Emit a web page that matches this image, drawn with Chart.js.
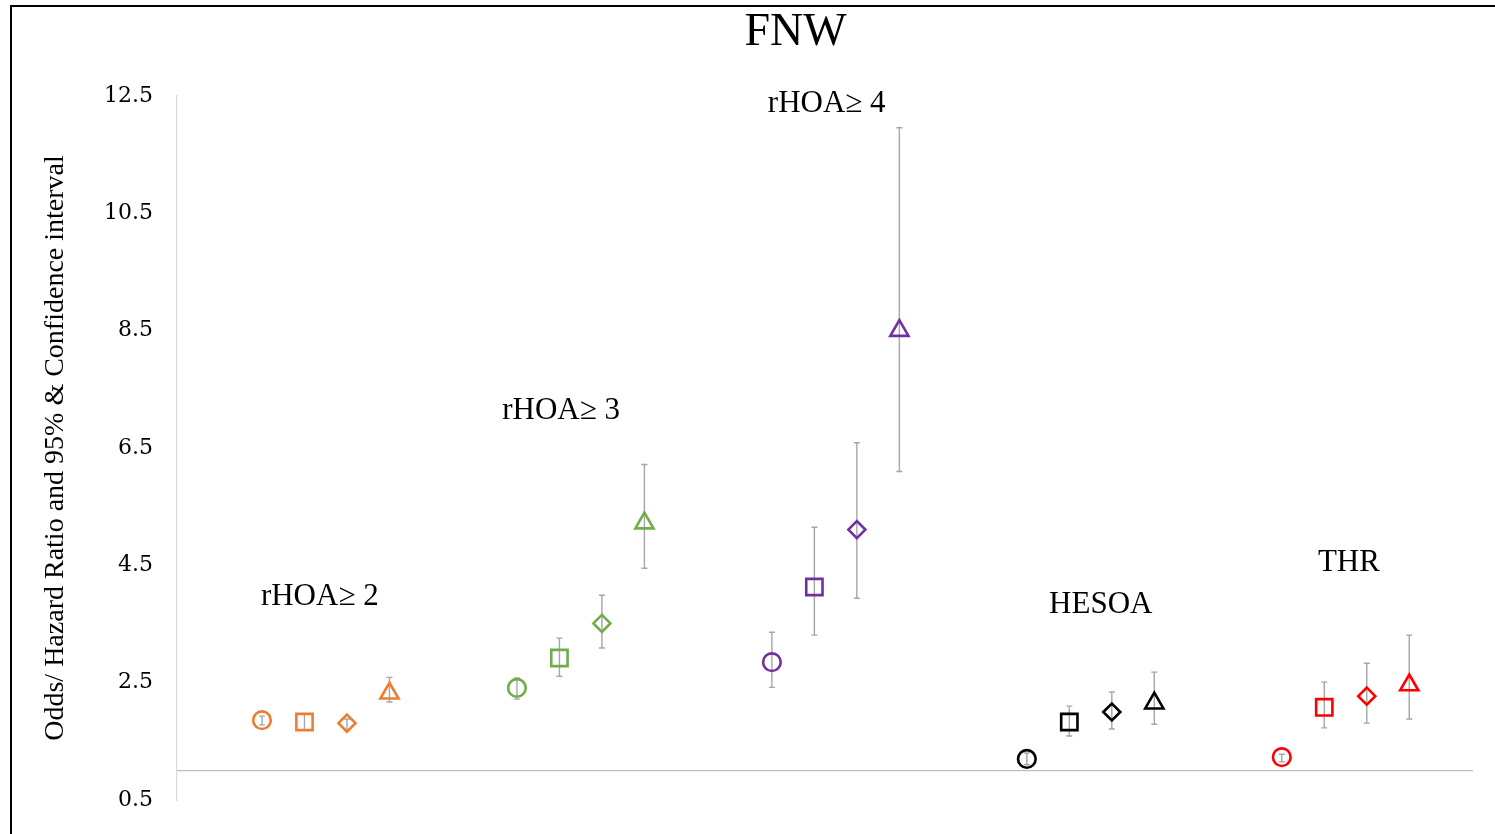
<!DOCTYPE html>
<html>
<head>
<meta charset="utf-8">
<script src="https://cdn.jsdelivr.net/npm/chart.js@4"></script>
<style>
  html, body { margin: 0; padding: 0; background: #fff; overflow: hidden; }
  #wrap { position: relative; width: 1495px; height: 834px; }
  #chart { position: absolute; left: 0; top: 0; }
  #frame { position: absolute; left: 10px; top: 5px; width: 1600px; height: 900px;
           border-top: 2px solid #000; border-left: 2px solid #000; pointer-events: none; }
</style>
</head>
<body>
<div id="wrap">
  <canvas id="chart" width="1495" height="834"></canvas>
  <div id="frame"></div>
</div>
<script>
// Groups and the four markers in each group (circle, square, diamond, triangle)
const groups = ['rHOA\u2265 2', 'rHOA\u2265 3', 'rHOA\u2265 4', 'HESOA', 'THR'];
const colors = ['#ED7D31', '#70AD47', '#7030A0', '#000000', '#FF0000'];
const shapes = ['circle', 'rect', 'rectRot', 'triangle'];

// Ratio estimates with lower / upper confidence limits
const rhoa2 = [1.86, 1.83, 1.81, 2.32];
const rhoa2Low = [1.78, 1.69, 1.69, 2.17];
const rhoa2High = [1.93, 1.96, 1.88, 2.59];

const rhoa3 = [2.41, 2.92, 3.51, 5.22];
const rhoa3Low = [2.22, 2.61, 3.09, 4.45];
const rhoa3High = [2.58, 3.26, 3.99, 6.22];

const rhoa4 = [2.85, 4.13, 5.11, 8.50];
const rhoa4Low = [2.42, 3.31, 3.94, 6.10];
const rhoa4High = [3.36, 5.15, 6.59, 11.96];

const hesoa = [1.20, 1.83, 2.00, 2.15];
const hesoaLow = [1.10, 1.59, 1.71, 1.79];
const hesoaHigh = [1.30, 2.10, 2.34, 2.68];

const thr = [1.23, 2.08, 2.27, 2.46];
const thrLow = [1.15, 1.73, 1.81, 1.88];
const thrHigh = [1.28, 2.51, 2.83, 3.31];

const estimates = [rhoa2, rhoa3, rhoa4, hesoa, thr];
const lows = [rhoa2Low, rhoa3Low, rhoa4Low, hesoaLow, thrLow];
const highs = [rhoa2High, rhoa3High, rhoa4High, hesoaHigh, thrHigh];

const yTicks = { min: 0.5, max: 12.5, step: 2 };

// each group takes 4 slots plus 2 empty ones
const datasets = groups.map((g, gi) => ({
    label: g,
    data: estimates[gi].map((v, j) => ({ x: gi * 6 + j, y: v })),
    low: lows[gi],
    high: highs[gi],
    borderColor: colors[gi],
    backgroundColor: 'rgba(0,0,0,0)',
    pointStyle: shapes,
    pointRadius: [8.8, 11.5, 8.5, 10.5],
    pointBorderWidth: 2.6,
    showLine: false
}));

// Confidence interval whiskers, drawn under the markers
const errorBars = {
    id: 'errorBars',
    beforeDatasetsDraw(chart) {
        const { ctx, scales: { x, y } } = chart;
        ctx.save();
        ctx.strokeStyle = '#a6a6a6';
        ctx.lineWidth = 1.4;
        chart.data.datasets.forEach(ds => {
            ds.data.forEach((p, j) => {
                const px = x.getPixelForValue(p.x);
                const top = y.getPixelForValue(ds.high[j]);
                const bot = y.getPixelForValue(ds.low[j]);
                ctx.beginPath();
                ctx.moveTo(px, top); ctx.lineTo(px, bot);
                ctx.moveTo(px - 3, top); ctx.lineTo(px + 3, top);
                ctx.moveTo(px - 3, bot); ctx.lineTo(px + 3, bot);
                ctx.stroke();
            });
        });
        // reference line at ratio = 1
        const y1 = y.getPixelForValue(1);
        ctx.strokeStyle = '#bfbfbf';
        ctx.lineWidth = 1.2;
        ctx.beginPath();
        ctx.moveTo(chart.chartArea.left, y1);
        ctx.lineTo(chart.chartArea.right, y1);
        ctx.stroke();
        ctx.restore();
    }
};

// Title and group captions
const captions = {
    id: 'captions',
    afterDraw(chart) {
        const { ctx, scales: { x, y } } = chart;
        ctx.save();
        ctx.fillStyle = '#000';
        ctx.textAlign = 'center';
        ctx.textBaseline = 'middle';
        ctx.font = '46px "Liberation Serif", "Times New Roman", serif';
        ctx.fillText('FNW', (chart.width) / 2 + 48, 33);

        const spots = [[1.36, 3.97], [7.04, 7.14], [13.29, 12.36], [19.74, 3.82], [25.58, 4.55]];
        ctx.font = '31px "Liberation Serif", "Times New Roman", serif';
        groups.forEach((g, i) => {
            ctx.fillText(g, x.getPixelForValue(spots[i][0]), y.getPixelForValue(spots[i][1]));
        });
        ctx.restore();
    }
};

const ctx = document.getElementById('chart');
new Chart(ctx, {
    type: 'scatter',
    data: { datasets: datasets },
    options: {
        responsive: false,
        animation: false,
        events: [],
        layout: { autoPadding: false, padding: { top: 96, right: 22, bottom: 34, left: 0 } },
        plugins: {
            legend: { display: false },
            tooltip: { enabled: false }
        },
        scales: {
            x: {
                type: 'linear',
                display: false,
                min: -2,
                max: 28.5
            },
            y: {
                min: yTicks.min,
                max: yTicks.max,
                afterFit: s => {
                    s.width = 177;
                    s.paddingTop = 0;
                    s.paddingBottom = 0;
                },
                ticks: {
                    stepSize: yTicks.step,
                    color: '#000',
                    padding: 24,
                    font: { family: '"DejaVu Serif", serif', size: 22 }
                },
                grid: { display: false, drawTicks: false },
                border: { display: true, color: '#d9d9d9', width: 1.2 },
                title: {
                    display: true,
                    text: 'Odds/ Hazard Ratio and 95% & Confidence interval',
                    color: '#000',
                    padding: { top: 39 },
                    font: { family: '"Liberation Serif", "Times New Roman", serif', size: 28 }
                }
            }
        }
    },
    plugins: [errorBars, captions]
});
</script>
</body>
</html>
